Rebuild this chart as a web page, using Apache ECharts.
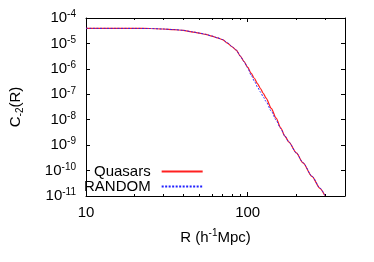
<!DOCTYPE html>
<html><head><meta charset="utf-8">
<script src="https://cdn.jsdelivr.net/npm/echarts@6/dist/echarts.min.js"></script>
<style>html,body{margin:0;padding:0;background:#fff}#c{width:374px;height:262px}</style>
</head><body><div id="c"></div>
<script>
const R = [10, 15, 20, 25, 30, 35, 40, 45, 50, 55, 60, 65, 70, 75, 80, 85, 90, 95, 100, 105, 110, 115, 120, 125, 130, 140, 150, 160, 170, 180, 200, 220, 250, 280, 300];
const quasars = [3.93e-5, 3.91e-5, 3.90e-5, 3.86e-5, 3.69e-5, 3.49e-5, 3.26e-5, 2.86e-5, 2.55e-5, 2.26e-5, 1.94e-5, 1.65e-5, 1.40e-5, 1.03e-5, 7.41e-6, 5.45e-6, 3.19e-6, 1.92e-6, 1.16e-6, 6.84e-7, 4.27e-7, 2.64e-7, 1.68e-7, 1.08e-7, 7.08e-8, 2.79e-8, 1.15e-8, 4.84e-9, 2.26e-9, 1.32e-9, 4.93e-10, 2.01e-10, 5.86e-11, 2.01e-11, 1.04e-11];
const random = [3.93e-5, 3.91e-5, 3.90e-5, 3.86e-5, 3.69e-5, 3.50e-5, 3.28e-5, 2.89e-5, 2.58e-5, 2.28e-5, 1.96e-5, 1.67e-5, 1.42e-5, 1.05e-5, 7.55e-6, 5.5e-6, 3.2e-6, 1.9e-6, 1.1e-6, 5.70e-7, 3.31e-7, 1.92e-7, 1.22e-7, 7.76e-8, 5.16e-8, 2.18e-8, 9.64e-9, 4.47e-9, 2.26e-9, 1.32e-9, 4.93e-10, 2.05e-10, 6.0e-11, 2.05e-11, 1.07e-11];
const xTicks = [10, 100];
const yMin = 1e-11, yMax = 1e-4, xMin = 10, xMax = 400;

const font = "'Liberation Sans', Arial, sans-serif";
const chart = echarts.init(document.getElementById('c'), null, {renderer: 'canvas'});
const pow10 = v => { const e = Math.round(Math.log10(v)); return '{b|10}{s|' + e + '}'; };
const richY = {
  b: {fontSize: 15, fontFamily: font, color: '#000', lineHeight: 17},
  s: {fontSize: 10, fontFamily: font, color: '#000', verticalAlign: 'top', lineHeight: 8}
};
const baseX = {
  type: 'log', logBase: 10, min: xMin, max: xMax,
  axisLine: {show: true, lineStyle: {color: '#000', width: 1}},
  axisTick: {show: true, inside: true, length: 4, lineStyle: {color: '#000'}},
  minorTick: {show: true, splitNumber: 9, length: 2, lineStyle: {color: '#000'}},
  splitLine: {show: false}, minorSplitLine: {show: false}
};
const baseY = {
  type: 'log', logBase: 10, min: yMin, max: yMax,
  axisLine: {show: true, lineStyle: {color: '#000', width: 1}},
  axisTick: {show: true, inside: true, length: 4, lineStyle: {color: '#000'}},
  splitLine: {show: false}
};
chart.setOption({
  animation: false,
  backgroundColor: '#fff',
  grid: {left: 77, right: 29, top: 18, bottom: 66, containLabel: false},
  legend: {
    orient: 'vertical', left: 79, top: 159, align: 'right',
    itemWidth: 41, itemHeight: 10, itemGap: 0,
    itemStyle: {opacity: 0},
    textStyle: {fontSize: 15, fontFamily: font, color: '#000', lineHeight: 15, padding: [0, 6, 0, 0]},
    data: ['Quasars', 'RANDOM']
  },
  xAxis: [
    Object.assign({}, baseX, {
      position: 'bottom',
      name: '{t|R (h}{s|-1}{t|Mpc)}', nameLocation: 'middle', nameGap: 32,
      nameTextStyle: {rich: {t: {fontSize: 15, fontFamily: font, color: '#000', lineHeight: 19}, s: {fontSize: 10, fontFamily: font, color: '#000', verticalAlign: 'top', lineHeight: 9}}},
      axisLabel: {show: true, fontSize: 15, fontFamily: font, color: '#000', margin: 9,
        formatter: v => (xTicks.indexOf(Math.round(v)) >= 0 ? String(Math.round(v)) : '')}
    }),
    Object.assign({}, baseX, {position: 'top', axisLabel: {show: false}})
  ],
  yAxis: [
    Object.assign({}, baseY, {
      position: 'left',
      name: '{t|C}{u|-2}{t|(R)}', nameLocation: 'middle', nameGap: 61, nameRotate: 90,
      nameTextStyle: {rich: {t: {fontSize: 15, fontFamily: font, color: '#000', lineHeight: 19}, u: {fontSize: 10, fontFamily: font, color: '#000', verticalAlign: 'bottom', lineHeight: 9}}},
      axisLabel: {show: true, margin: 10, formatter: pow10, rich: richY}
    }),
    Object.assign({}, baseY, {position: 'right', axisLabel: {show: false}})
  ],
  series: [
    {name: 'Quasars', type: 'line', xAxisIndex: 0, yAxisIndex: 0, symbol: 'none', smooth: 0.25, smoothMonotone: 'x',
      lineStyle: {color: '#ff2020', width: 1.2}, itemStyle: {color: '#ff2020'},
      data: R.map((r, i) => [r, quasars[i]])},
    {name: 'RANDOM', type: 'line', xAxisIndex: 0, yAxisIndex: 0, symbol: 'none', smooth: 0.25, smoothMonotone: 'x',
      lineStyle: {color: '#2020ff', width: 0.9, type: [2, 1.5]}, itemStyle: {color: '#2020ff'},
      data: R.map((r, i) => [r, random[i]])}
  ]
});
</script></body></html>
